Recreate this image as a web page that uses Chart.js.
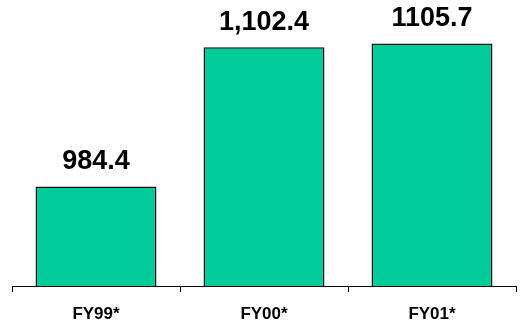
<!DOCTYPE html>
<html>
<head>
<meta charset="utf-8">
<script src="https://cdn.jsdelivr.net/npm/chart.js@4"></script>
<style>
  html, body { margin: 0; padding: 0; background: #fff; }
  #wrap { width: 520px; height: 324px; }
</style>
</head>
<body>
<div id="wrap"><canvas id="umsatzChart"></canvas></div>
<script>
// Daten
const categories = ['FY99*', 'FY00*', 'FY01*'];
const values = [984.4, 1102.4, 1105.7];
const valueLabels = ['984.4', '1,102.4', '1105.7'];

// Werte über den Balken schreiben
const valueLabelPlugin = {
    id: 'valueLabels',
    afterDatasetsDraw(chart) {
        const ctx = chart.ctx;
        const meta = chart.getDatasetMeta(0);
        ctx.save();
        ctx.font = 'bold 27px "Liberation Sans", Arial, sans-serif';
        ctx.fillStyle = '#000';
        ctx.textAlign = 'center';
        ctx.textBaseline = 'alphabetic';
        meta.data.forEach((bar, i) => {
            ctx.fillText(valueLabels[i], bar.x, bar.y - 17);
        });
        ctx.restore();
    }
};

const ctx = document.getElementById('umsatzChart').getContext('2d');
new Chart(ctx, {
    type: 'bar',
    data: {
        labels: categories,
        datasets: [{
            data: values,
            backgroundColor: '#00CC99',
            borderColor: '#111',
            borderWidth: 1.5,
            borderSkipped: 'bottom',
            categoryPercentage: 1.0,
            barPercentage: 0.72
        }]
    },
    options: {
        responsive: true,
        maintainAspectRatio: false,
        animation: false,
        layout: {
            padding: { left: 12, right: 4, top: 3, bottom: 0 }
        },
        plugins: {
            legend: { display: false },
            tooltip: { enabled: false }
        },
        scales: {
            y: {
                display: false,
                min: 900,
                max: 1140
            },
            x: {
                afterFit: (scale) => { scale.height = 38; },  // Achse bei y=286
                grid: {
                    offset: true,
                    drawOnChartArea: false,
                    drawTicks: true,
                    tickLength: 6,
                    color: '#000'
                },
                border: { display: true, color: '#000', width: 1 },
                ticks: {
                    color: '#000',
                    padding: 12,
                    font: { family: '"Liberation Sans", Arial, sans-serif', size: 17, weight: 'bold' }
                }
            }
        }
    },
    plugins: [valueLabelPlugin]
});
</script>
</body>
</html>
